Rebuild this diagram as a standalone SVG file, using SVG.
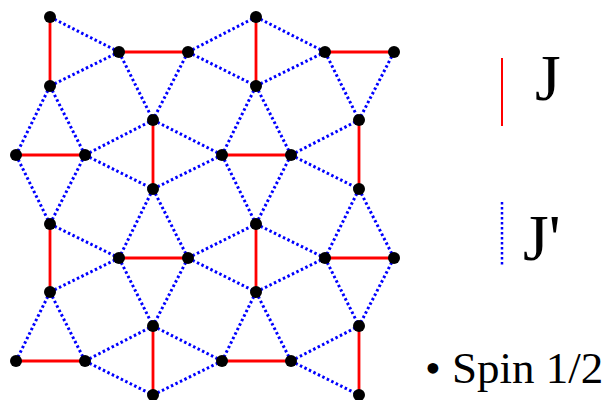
<svg xmlns="http://www.w3.org/2000/svg" width="605" height="400" viewBox="0 0 605 400">
<style>
.j{stroke:#ff0000;stroke-width:2.8;fill:none}
.jp{stroke:#0000ff;stroke-width:3;stroke-dasharray:2.5 2.5;fill:none}
.n{fill:#000}
.t{font-family:'Liberation Serif','Times New Roman',Tinos,'DejaVu Serif',serif;fill:#000}
</style>
<rect width="605" height="400" fill="#fff"/>
<g id="connectors">
<g class="jp">
<path d="M50,17L119,52M50,86L119,52M119,52L153,120M188,52L153,120M188,52L256,17M188,52L256,86M50,86L16,155M50,86L85,155M85,155L153,120M85,155L153,189M153,120L222,155M153,189L222,155M256,86L222,155M256,86L291,155M256,17L325,52M256,86L325,52M325,52L359,120M394,52L359,120M291,155L359,120M291,155L359,189M16,155L50,224M85,155L50,224M153,189L119,258M153,189L188,258M222,155L256,224M291,155L256,224M359,189L325,258M359,189L394,258M50,224L119,258M50,292L119,258M188,258L256,224M188,258L256,292M256,224L325,258M256,292L325,258M119,258L153,326M188,258L153,326M325,258L359,326M394,258L359,326M50,292L16,361M50,292L85,361M85,361L153,326M85,361L153,395M153,326L222,361M153,395L222,361M256,292L222,361M256,292L291,361M291,361L359,326M291,361L359,395"/>
</g>
<g class="j">
<path d="M50,17V86M119,52H188M256,17V86M325,52H394M16,155H85M153,120V189M222,155H291M359,120V189M50,224V292M119,258H188M256,224V292M325,258H394M16,361H85M153,326V395M222,361H291M359,326V395"/>
</g>
</g>
<g id="nodes" class="n">
<circle id="n1" cx="50" cy="17" r="6"/><circle id="n2" cx="256" cy="17" r="6"/>
<circle id="n3" cx="119" cy="52" r="6"/><circle id="n4" cx="188" cy="52" r="6"/><circle id="n5" cx="325" cy="52" r="6"/><circle id="n6" cx="394" cy="52" r="6"/>
<circle id="n7" cx="50" cy="86" r="6"/><circle id="n8" cx="256" cy="86" r="6"/>
<circle id="n9" cx="153" cy="120" r="6"/><circle id="n10" cx="359" cy="120" r="6"/>
<circle id="n11" cx="16" cy="155" r="6"/><circle id="n12" cx="85" cy="155" r="6"/><circle id="n13" cx="222" cy="155" r="6"/><circle id="n14" cx="291" cy="155" r="6"/>
<circle id="n15" cx="153" cy="189" r="6"/><circle id="n16" cx="359" cy="189" r="6"/>
<circle id="n17" cx="50" cy="224" r="6"/><circle id="n18" cx="256" cy="224" r="6"/>
<circle id="n19" cx="119" cy="258" r="6"/><circle id="n20" cx="188" cy="258" r="6"/><circle id="n21" cx="325" cy="258" r="6"/><circle id="n22" cx="394" cy="258" r="6"/>
<circle id="n23" cx="50" cy="292" r="6"/><circle id="n24" cx="256" cy="292" r="6"/>
<circle id="n25" cx="153" cy="326" r="6"/><circle id="n26" cx="359" cy="326" r="6"/>
<circle id="n27" cx="16" cy="361" r="6"/><circle id="n28" cx="85" cy="361" r="6"/><circle id="n29" cx="222" cy="361" r="6"/><circle id="n30" cx="291" cy="361" r="6"/>
<circle id="n31" cx="153" cy="395" r="6"/><circle id="n32" cx="359" cy="395" r="6"/>
</g>
<g id="legend">
<line x1="502" y1="58" x2="502" y2="126" stroke="#ff0000" stroke-width="2"/>
<text class="t" x="535" y="100" font-size="66">J</text>
<line x1="502" y1="202" x2="502" y2="266" stroke="#0000ff" stroke-width="2.5" stroke-dasharray="2.5 2.5"/>
<text class="t" x="523" y="260" font-size="66">J'</text>
<text class="t" x="425" y="383" font-size="45">• Spin 1/2</text>
</g>
</svg>
